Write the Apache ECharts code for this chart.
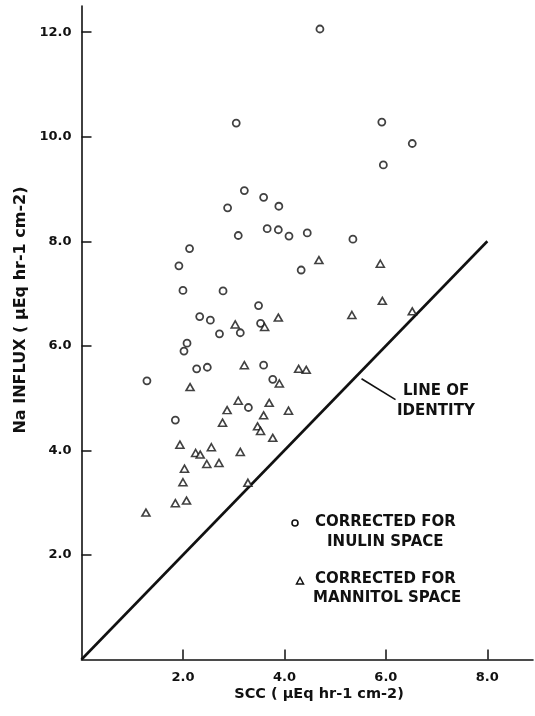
<!DOCTYPE html>
<html>
<head>
<meta charset="utf-8">
<script src="https://cdn.jsdelivr.net/npm/echarts@6/dist/echarts.min.js"></script>
<style>
html,body{margin:0;padding:0;background:#fff;}
#chart{width:535px;height:716px;}
</style>
</head>
<body>
<div id="chart"></div>
<script>
// Corrected for inulin space (circles): [SCC, Na influx]
const inulinX = [4.70,3.05,5.92,6.52,5.95,3.21,3.59,2.88,3.89,3.66,3.88,3.09,4.09,4.45,5.35,2.13,1.92,4.33,2.00,2.79,3.49,2.33,2.54,3.53,2.72,3.13,2.08,2.02,3.59,2.27,2.48,1.29,3.77,3.29,1.85];
const inulinY = [12.06,10.26,10.28,9.87,9.46,8.97,8.84,8.64,8.67,8.24,8.22,8.11,8.10,8.16,8.04,7.86,7.53,7.45,7.06,7.05,6.77,6.56,6.49,6.43,6.23,6.25,6.05,5.90,5.63,5.56,5.59,5.33,5.36,4.82,4.58];
// Corrected for mannitol space (triangles)
const mannitolX = [4.68,5.89,5.93,5.33,6.52,3.88,3.03,3.61,3.21,4.28,4.43,3.90,2.14,3.09,3.70,2.87,4.08,3.59,2.78,3.47,3.53,3.77,1.94,2.56,2.25,2.34,3.13,2.47,2.71,2.03,2.00,3.28,1.85,2.07,1.27];
const mannitolY = [7.64,7.57,6.86,6.59,6.66,6.54,6.41,6.36,5.63,5.56,5.54,5.28,5.21,4.95,4.91,4.77,4.76,4.67,4.53,4.46,4.37,4.24,4.11,4.06,3.95,3.92,3.97,3.74,3.76,3.65,3.39,3.38,2.99,3.04,2.81];
// Line of identity
const identityX = [0, 8];
const identityY = [0, 8];
// Annotation pointer (data units)
const pointerX = [5.52, 6.19];
const pointerY = [5.37, 4.97];

const xTicks = [2, 4, 6, 8];
const yTicks = [2, 4, 6, 8, 10, 12];

const INK = '#111';
const FONT = 'DejaVu Sans';

const zip = (a, b) => a.map((v, i) => [v, b[i]]);

const chart = echarts.init(document.getElementById('chart'), null, {renderer: 'canvas'});

const option = {
  animation: false,
  backgroundColor: '#fff',
  grid: {left: 81.5, top: 6, right: 2, bottom: 56.5, containLabel: false},
  xAxis: {
    type: 'value', min: 0, max: 8.9, interval: 2,
    axisLine: {show: true, lineStyle: {color: INK, width: 1.6}},
    axisTick: {show: true, inside: true, length: 10, customValues: xTicks, lineStyle: {color: INK, width: 1.5}},
    axisLabel: {
      color: INK, fontFamily: FONT, fontWeight: 'bold', fontSize: 13, margin: 12,
      customValues: xTicks,
      formatter: v => v.toFixed(1)
    },
    splitLine: {show: false}
  },
  yAxis: {
    type: 'value', min: 0, max: 12.5, interval: 2,
    axisLine: {show: true, lineStyle: {color: INK, width: 1.6}},
    axisTick: {show: true, inside: true, length: 10, customValues: yTicks, lineStyle: {color: INK, width: 1.5}},
    axisLabel: {
      color: INK, fontFamily: FONT, fontWeight: 'bold', fontSize: 13, margin: 10,
      customValues: yTicks,
      formatter: v => v.toFixed(1)
    },
    splitLine: {show: false}
  },
  series: [
    {
      type: 'line', data: zip(identityX, identityY), symbol: 'none',
      lineStyle: {color: INK, width: 2.6}, silent: true, z: 1
    },
    {
      type: 'line', data: zip(pointerX, pointerY), symbol: 'none',
      lineStyle: {color: INK, width: 1.6}, silent: true, z: 1
    },
    {
      name: 'inulin', type: 'scatter', data: zip(inulinX, inulinY),
      symbol: 'circle', symbolSize: 7,
      itemStyle: {color: '#fff', borderColor: INK, borderWidth: 1.8}, z: 3
    },
    {
      name: 'mannitol', type: 'scatter', data: zip(mannitolX, mannitolY),
      symbol: 'triangle', symbolSize: [8, 7],
      itemStyle: {color: '#fff', borderColor: INK, borderWidth: 1.6}, z: 3
    }
  ],
  graphic: [
    {type: 'text', x: 21, y: 310, rotation: Math.PI / 2,
     style: {text: 'Na INFLUX ( μEq hr-1 cm-2)', fill: INK, font: 'bold 16px "DejaVu Sans"', align: 'center', verticalAlign: 'middle'}},
    {type: 'text', x: 319, y: 694,
     style: {text: 'SCC ( μEq hr-1 cm-2)', fill: INK, font: 'bold 14.5px "DejaVu Sans"', align: 'center', verticalAlign: 'middle'}},
    {type: 'text', left: 403, top: 384, style: {text: 'LINE OF', fill: INK, font: 'bold 15px "DejaVu Sans"'}},
    {type: 'text', left: 397, top: 404, style: {text: 'IDENTITY', fill: INK, font: 'bold 15px "DejaVu Sans"'}},
    {type: 'circle', shape: {cx: 295, cy: 523, r: 3}, style: {fill: '#fff', stroke: INK, lineWidth: 1.6}},
    {type: 'text', left: 315, top: 515, style: {text: 'CORRECTED FOR', fill: INK, font: 'bold 15px "DejaVu Sans"'}},
    {type: 'text', left: 327, top: 535, style: {text: 'INULIN SPACE', fill: INK, font: 'bold 15px "DejaVu Sans"'}},
    {type: 'polygon', shape: {points: [[300, 577.5], [296.5, 584], [303.5, 584]]}, style: {fill: '#fff', stroke: INK, lineWidth: 1.5}},
    {type: 'text', left: 315, top: 572, style: {text: 'CORRECTED FOR', fill: INK, font: 'bold 15px "DejaVu Sans"'}},
    {type: 'text', left: 313, top: 591, style: {text: 'MANNITOL SPACE', fill: INK, font: 'bold 15px "DejaVu Sans"'}}
  ]
};
chart.setOption(option);
</script>
</body>
</html>
